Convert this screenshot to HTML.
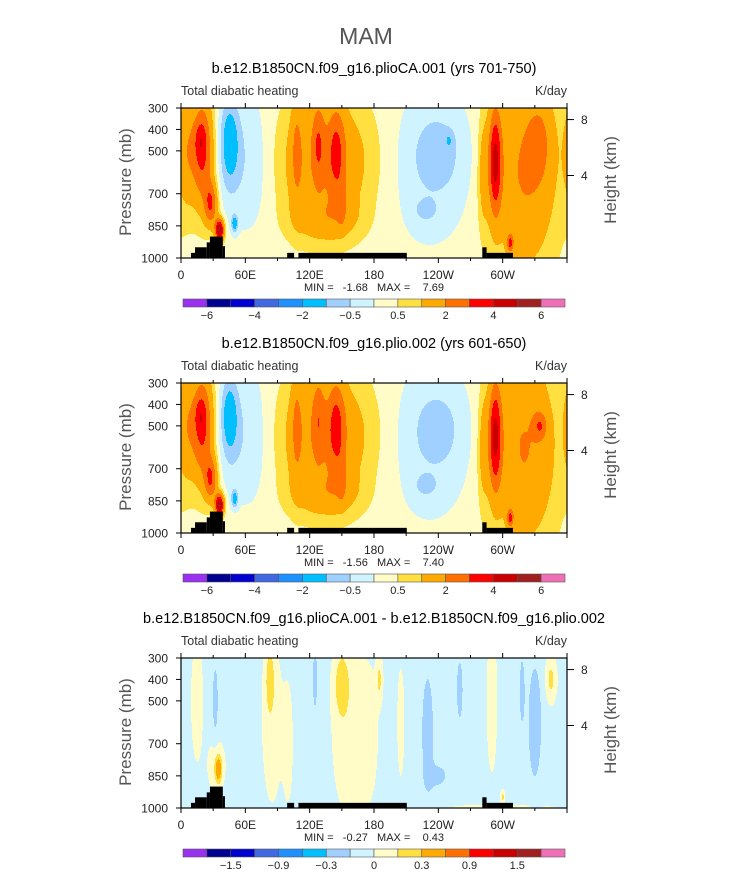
<!DOCTYPE html>
<html><head><meta charset="utf-8">
<style>
body{margin:0;background:#fff;width:733px;height:888px;overflow:hidden;position:relative;font-family:"Liberation Sans",sans-serif}
#s{position:absolute;left:0;top:0}
</style></head>
<body>
<svg id="s" xmlns="http://www.w3.org/2000/svg" width="733" height="888">
<text x="366" y="44" text-anchor="middle" font-size="23" fill="#555">MAM</text>
</svg>
<script>
var colors=["#9a30f0","#000090","#0000d0","#4068e0","#1e90ff","#00bfff","#a0d0ff","#d0f4ff","#fffcc8","#ffe040","#ffaa00","#ff7000","#ff0000","#c80000","#a02020","#f070b8"];
var levelsAbs=[-6,-5,-4,-3,-2,-1,-0.5,0,0.5,1,2,3,4,5,6];
var levelsDiff=[-1.8,-1.5,-1.2,-0.9,-0.6,-0.3,-0.15,0,0.15,0.3,0.6,0.9,1.2,1.5,1.8];
var labelsAbs=["-6","-4","-2","-0.5","0.5","2","4","6"];
var labelsDiff=["-1.5","-0.9","-0.3","0","0.3","0.9","1.5"];
var xTickLabels=["0","60E","120E","180","120W","60W"];
var xTickLons=[0,60,120,180,240,300];
var pTicks=[300,400,500,700,850,1000];
var hTicks=[8,4];
var hTickP=[354,615];
var p1Lon=[20,18,28,36,45,50,50,72,135,108,128,145,150,135,240,250,230,228,293,320,335,307,282,5];
var p1P  =[500,450,750,870,450,550,840,550,550,500,450,500,750,820,500,450,600,780,550,600,450,930,600,500];
var p1Amp=[3.0,0.9,2.5,5.0,-1.3,-0.6,-1.5,-0.5,1.6,1.2,1.5,1.8,1.0,0.9,-0.6,-0.5,-0.5,-0.6,3.5,1.8,1.0,2.5,1.0,1.2];
var p1W  =[10,5,6,4,9,18,3,18,45,5,6,8,4,30,28,4,45,10,6,30,12,3,5,8];
var p1H  =[250,80,100,50,200,300,40,350,300,250,200,220,100,100,220,40,400,50,250,450,200,40,250,250];
var p2Lon=[20,18,28,36,45,50,50,72,135,108,128,145,150,135,240,230,228,293,320,335,307,282,5];
var p2P  =[500,450,750,870,450,550,840,550,550,500,450,500,750,820,500,600,780,550,600,500,930,600,500];
var p2Amp=[3.0,0.9,2.5,5.0,-1.3,-0.6,-1.5,-0.5,1.6,1.2,1.3,1.9,1.0,0.9,-0.55,-0.5,-0.6,3.5,1.8,1.6,2.5,1.0,1.2];
var p2W  =[10,5,6,4,8,18,3,18,45,5,6,8,4,30,28,45,10,6,30,6,3,5,8];
var p2H  =[250,80,100,50,180,300,40,350,300,250,200,220,100,100,220,400,50,250,450,60,40,250,250];
var p3Lon=[15,83,85,35,33,150,155,185,175,205,345,290,300,230,240,330,318,32,125,260,300,100];
var p3P  =[500,400,600,820,800,420,650,400,650,600,400,500,950,650,850,600,450,500,400,450,1000,700];
var p3Amp=[0.12,0.25,0.12,0.45,0.15,0.27,0.12,0.22,0.1,0.1,0.25,0.1,0.25,-0.2,-0.15,-0.2,-0.15,-0.17,-0.15,-0.15,0.1,0.1];
var p3W  =[6,4,10,3,8,7,15,3,10,4,5,6,2,6,10,7,3,3,3,4,60,5];
var p3H  =[300,150,400,60,120,150,400,100,350,300,100,400,30,300,60,300,200,200,200,200,20,300];
var terrainStart=[9.3,13.1,24,27,39,99,109.5,281,285];
var terrainEnd  =[13.1,24,27,39,41,105.5,210.6,285,309.6];
var terrainTop  =[976,950,927,900,945,976,976,950,976];
var panels=[
 {top:108,title:"b.e12.B1850CN.f09_g16.plioCA.001 (yrs 701-750)",minmax:"MIN =   -1.68   MAX =    7.69",base:0.25,lon:p1Lon,p:p1P,amp:p1Amp,w:p1W,h:p1H,lev:levelsAbs,lab:labelsAbs,labStart:1},
 {top:383,title:"b.e12.B1850CN.f09_g16.plio.002 (yrs 601-650)",minmax:"MIN =   -1.56   MAX =    7.40",base:0.25,lon:p2Lon,p:p2P,amp:p2Amp,w:p2W,h:p2H,lev:levelsAbs,lab:labelsAbs,labStart:1},
 {top:658,title:"b.e12.B1850CN.f09_g16.plioCA.001 - b.e12.B1850CN.f09_g16.plio.002",minmax:"MIN =   -0.27   MAX =    0.43",base:-0.05,lon:p3Lon,p:p3P,amp:p3Amp,w:p3W,h:p3H,lev:levelsDiff,lab:labelsDiff,labStart:2}
];
var X0=181,X1=567,PH=150;
function xs(lon){return X0+lon/360*(X1-X0);}
function ys(top,p){return top+(p-300)/700*PH;}
function field(P,lon,p){var v=P.base;for(var i=0;i<P.lon.length;i++){var d=Math.abs(lon-P.lon[i]);d=Math.min(d,360-d);v+=P.amp[i]*Math.exp(-(d/P.w[i])*(d/P.w[i])-((p-P.p[i])/P.h[i])*((p-P.p[i])/P.h[i]));}return v;}
function bin(v,lev){var k=0;while(k<lev.length&&v>=lev[k])k++;return k;}
var svg=document.getElementById('s');var NS="http://www.w3.org/2000/svg";
function el(tag,attrs,txt){var e=document.createElementNS(NS,tag);for(var k in attrs)e.setAttribute(k,attrs[k]);if(txt!==undefined)e.textContent=txt;svg.appendChild(e);return e;}
function drawPanel(P){
 var top=P.top,bot=top+PH,e;
 var NX=386,NY=150,cw=(X1-X0)/NX,ch=PH/NY;
 var g=el('g',{});
 
 
 for(var j=0;j<NY;j++){var p=300+(j+0.5)/NY*700;var start=0,cur=-1;
  for(var i=0;i<=NX;i++){var k=i<NX?bin(field(P,(i+0.5)/NX*360,p),P.lev):-2;
   if(k!==cur){if(cur>=0){var r=document.createElementNS(NS,'rect');r.setAttribute('x',X0+start*cw);r.setAttribute('y',top+j*ch);r.setAttribute('width',(i-start)*cw+0.5);r.setAttribute('height',ch+0.5);r.setAttribute('fill',colors[cur]);g.appendChild(r);}start=i;cur=k;}}}
 e=el('text',{x:374,y:top-35,'text-anchor':'middle','font-size':14.5,fill:'#000'},P.title);
 
 
 e=el('text',{x:181,y:top-13,'font-size':12.5,fill:'#333'},'Total diabatic heating');
 
 
 e=el('text',{x:567,y:top-13,'text-anchor':'end','font-size':12.5,fill:'#333'},'K/day');
 
 
 for(var t=0;t<terrainStart.length;t++){e=el('rect',{x:xs(terrainStart[t]),y:ys(top,terrainTop[t]),width:xs(terrainEnd[t])-xs(terrainStart[t]),height:bot-ys(top,terrainTop[t]),fill:'#000'});
  
  }
 e=el('rect',{x:X0,y:top,width:X1-X0,height:PH,fill:'none',stroke:'#000','stroke-width':1.2});
 
 
 for(var lon=0;lon<=360;lon+=30){var L=lon%60===0?5:3;var x=xs(lon);
  el('line',{x1:x,x2:x,y1:bot,y2:bot+L,stroke:'#000'});el('line',{x1:x,x2:x,y1:top,y2:top-L,stroke:'#000'});}
 for(var a=0;a<xTickLabels.length;a++){e=el('text',{x:xs(xTickLons[a]),y:bot+21,'text-anchor':'middle','font-size':12,fill:'#222'},xTickLabels[a]);
  
  }
 for(var b=0;b<pTicks.length;b++){var y=ys(top,pTicks[b]);el('line',{x1:X0-5,x2:X0,y1:y,y2:y,stroke:'#000'});
  e=el('text',{x:168,y:y+4.5,'text-anchor':'end','font-size':12,fill:'#222'},String(pTicks[b]));
  
  }
 for(var c=0;c<hTicks.length;c++){var y2=ys(top,hTickP[c]);el('line',{x1:X1,x2:X1+7,y1:y2,y2:y2,stroke:'#000'});
  e=el('text',{x:581,y:y2+4.5,'font-size':12,fill:'#222'},String(hTicks[c]));
  
  }
 e=el('text',{x:0,y:0,'text-anchor':'middle','font-size':17,fill:'#555',transform:'translate(131,'+(top+74)+') rotate(-90)'},'Pressure (mb)');
 
 
 e=el('text',{x:0,y:0,'text-anchor':'middle','font-size':17,fill:'#555',transform:'translate(616,'+(top+72)+') rotate(-90)'},'Height (km)');
 
 
 e=el('text',{x:374,y:bot+33,'text-anchor':'middle','font-size':11,fill:'#222',style:'white-space:pre'},P.minmax);
 
 
 var cy=bot+41,cx0=183,cx1=565,bw=(cx1-cx0)/16;
 for(var q=0;q<colors.length;q++){e=el('rect',{x:cx0+q*bw,y:cy,width:bw,height:8,fill:colors[q],stroke:'#555','stroke-width':0.6});
  
  }
 for(var m=0;m<P.lab.length;m++){var idx=P.labStart+2*m;e=el('text',{x:cx0+idx*bw,y:cy+20,'text-anchor':'middle','font-size':11,fill:'#222'},P.lab[m].replace('-','\u2212'));
  
  }
}
for(var n=0;n<panels.length;n++){try{drawPanel(panels[n]);}catch(err){}}
</script>
</body></html>
